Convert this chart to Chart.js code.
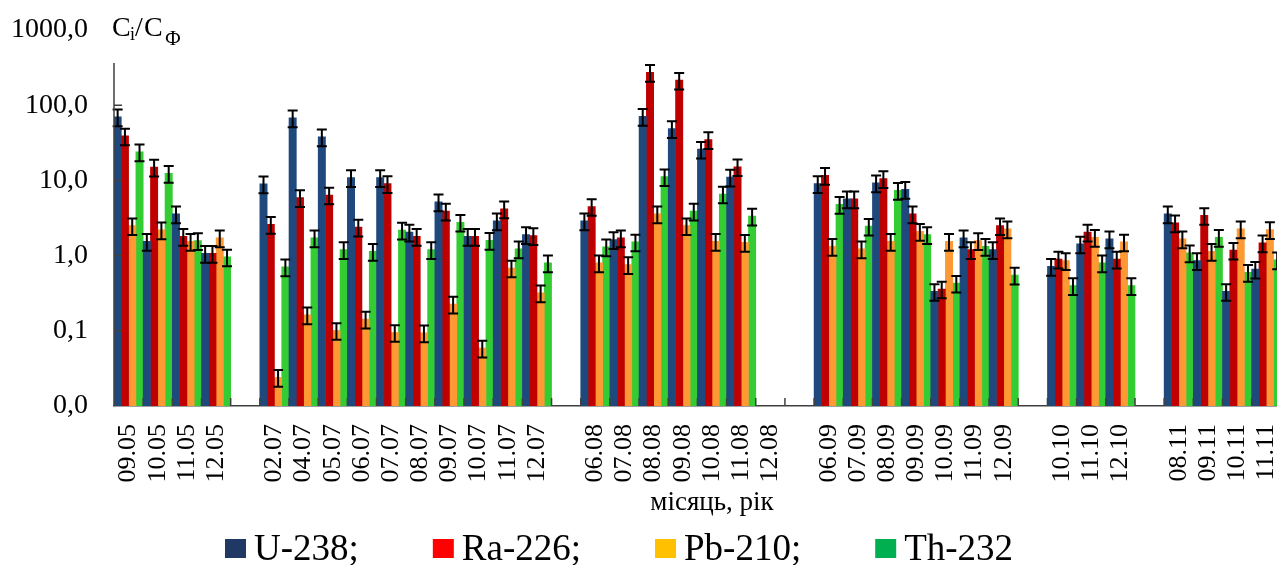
<!DOCTYPE html>
<html>
<head>
<meta charset="utf-8">
<script src="https://cdn.jsdelivr.net/npm/chart.js@4.4.1/dist/chart.umd.min.js"></script>
<style>
  html, body { margin: 0; padding: 0; background: #fff; overflow: hidden; }
  #wrap { position: relative; width: 1310px; height: 565px; }
</style>
</head>
<body>
<div id="wrap"><canvas id="myChart"></canvas></div>
<script>
// місяць.рік, порожні мітки - проміжки між роками
const months = [
  "09.05", "10.05", "11.05", "12.05", "",
  "02.07", "04.07", "05.07", "06.07", "07.07", "08.07", "09.07", "10.07", "11.07", "12.07", "",
  "06.08", "07.08", "08.08", "09.08", "10.08", "11.08", "12.08", "",
  "06.09", "07.09", "08.09", "09.09", "10.09", "11.09", "12.09", "",
  "10.10", "11.10", "12.10", "",
  "08.11", "09.11", "10.11", "11.11", ""
];

// Ci/Cф
const u238 = [
  70, 1.55, 3.6, 1.07, null,
  9.0, 68, 38, 10.9, 10.9, 2.05, 5.2, 1.8, 2.9, 1.9, null,
  2.9, 1.63, 71, 49, 26, 11.1, null, null,
  9.1, 5.7, 9.3, 7.6, 0.334, 1.72, 1.2, null,
  0.72, 1.43, 1.67, null,
  3.6, 0.86, 0.334, 0.66, null
];
const ra226 = [
  39, 15, 1.8, 1.07, null,
  2.6, 5.9, 6.4, 2.4, 9.1, 1.8, 3.9, 1.8, 4.2, 1.85, null,
  4.5, 1.72, 273, 215, 35, 15.2, null, null,
  11.7, 5.7, 10.6, 3.6, 0.36, 1.2, 2.5, null,
  0.9, 2.05, 0.9, null,
  2.73, 3.42, 1.18, 1.48, null
];
const pb210 = [
  2.5, 2.2, 1.55, 1.72, null,
  0.024, 0.163, 0.101, 0.143, 0.095, 0.094, 0.227, 0.059, 0.685, 0.32, null,
  0.8, 0.76, 3.6, 2.5, 1.55, 1.5, null, null,
  1.33, 1.23, 1.55, 2.1, 1.55, 1.58, 2.27, null,
  0.86, 1.75, 1.52, null,
  1.67, 1.14, 2.27, 2.22, null
];
const th232 = [
  24, 12.4, 1.58, 0.96, null,
  0.71, 1.72, 1.2, 1.14, 2.18, 1.2, 2.78, 1.6, 1.23, 0.8, null,
  1.31, 1.52, 11.2, 3.9, 6.6, 3.35, null, null,
  4.8, 2.46, 7.4, 1.9, 0.43, 1.33, 0.55, null,
  0.4, 0.8, 0.4, null,
  1.09, 1.75, 0.6, 0.88, null
];

const seriesNames = ["U-238", "Ra-226", "Pb-210", "Th-232"];
const legendTexts = ["U-238;", "Ra-226;", "Pb-210;", "Th-232"];
const yTickValues = [0.01, 0.1, 1, 10, 100, 1000];
const yTickLabels = ["0,0", "0,1", "1,0", "10,0", "100,0", "1000,0"];
const errorShare = 0.25; // похибка ±25%

const barColors = ["#1f497d", "#c00000", "#ff9933", "#33cc33"];
const legendColors = ["#1f3864", "#ff0000", "#ffc000", "#00b050"];
const serif = "'Liberation Serif', 'Times New Roman', serif";
const axisColor = "#404040";

const errorBars = {
  id: "errorBars",
  afterDatasetsDraw(chart) {
    const { ctx } = chart;
    const yScale = chart.scales.y;
    ctx.save();
    ctx.strokeStyle = "#000";
    ctx.lineWidth = 2;
    chart.data.datasets.forEach((ds, i) => {
      chart.getDatasetMeta(i).data.forEach((bar, j) => {
        const v = ds.data[j];
        if (v == null) return;
        const yHi = yScale.getPixelForValue(v * (1 + errorShare));
        const yLo = yScale.getPixelForValue(v * (1 - errorShare));
        ctx.beginPath();
        ctx.moveTo(bar.x, yHi);
        ctx.lineTo(bar.x, yLo);
        ctx.moveTo(bar.x - 5, yHi);
        ctx.lineTo(bar.x + 5, yHi);
        ctx.moveTo(bar.x - 5, yLo);
        ctx.lineTo(bar.x + 5, yLo);
        ctx.stroke();
      });
    });
    ctx.restore();
  }
};

// внутрішні поділки осей, вісь Y, підпис Ci/CФ і легенда
const decorations = {
  id: "decorations",
  afterDraw(chart) {
    const { ctx, chartArea } = chart;
    const x = chart.scales.x;
    const y = chart.scales.y;
    ctx.save();
    ctx.strokeStyle = axisColor;
    ctx.lineWidth = 1.5;
    ctx.beginPath();
    ctx.moveTo(chartArea.left, chartArea.top + 33);
    ctx.lineTo(chartArea.left, chartArea.bottom);
    for (let i = 0; i <= months.length; i++) {
      const px = x.getPixelForValue(i - 0.5);
      ctx.moveTo(px, chartArea.bottom);
      ctx.lineTo(px, chartArea.bottom - 8);
    }
    yTickValues.slice(1, 5).forEach((v) => {
      const py = y.getPixelForValue(v);
      ctx.moveTo(chartArea.left, py);
      ctx.lineTo(chartArea.left + 8, py);
    });
    ctx.stroke();

    // Ci/CФ
    ctx.fillStyle = "#000";
    ctx.textBaseline = "alphabetic";
    ctx.textAlign = "left";
    const parts = [
      ["C", 28, 112, 36],
      ["i", 18, 130, 40],
      ["/", 28, 135, 36],
      ["C", 28, 144, 36],
      ["Ф", 20, 165, 45]
    ];
    parts.forEach(([t, size, px, base]) => {
      ctx.font = size + "px " + serif;
      ctx.fillText(t, px, base);
    });

    // легенда
    ctx.font = "37px " + serif;
    let lx = 225;
    legendTexts.forEach((t, i) => {
      ctx.fillStyle = legendColors[i];
      ctx.fillRect(lx, 539, 21, 19);
      ctx.fillStyle = "#000";
      ctx.fillText(t, lx + 29, 560);
      lx += 29 + ctx.measureText(t).width + 74;
    });
    ctx.restore();
  }
};

const datasets = [u238, ra226, pb210, th232].map((data, i) => ({
  label: seriesNames[i],
  data,
  backgroundColor: barColors[i],
  borderWidth: 0,
  categoryPercentage: 1,
  barPercentage: 1
}));

const config = {
  type: "bar",
  data: { labels: months, datasets },
  options: {
    responsive: true,
    maintainAspectRatio: false,
    animation: false,
    layout: { padding: { top: 30, left: 0, right: 0, bottom: 0 } },
    plugins: {
      legend: { display: false },
      tooltip: { enabled: false }
    },
    scales: {
      x: {
        afterFit: (s) => {
          s.height = 159;
          s.paddingLeft = 0;
          s.paddingRight = 0;
        },
        grid: { display: false, drawTicks: false },
        border: { color: axisColor, width: 1.5 },
        ticks: {
          autoSkip: false,
          minRotation: 90,
          maxRotation: 90,
          padding: 18,
          color: "#000",
          font: { family: serif, size: 26 }
        },
        title: {
          display: true,
          text: "місяць, рік",
          color: "#000",
          font: { family: serif, size: 27 },
          padding: { top: 0, bottom: 46 }
        }
      },
      y: {
        type: "logarithmic",
        min: 0.01,
        max: 1000,
        afterBuildTicks: (s) => { s.ticks = yTickValues.map((v) => ({ value: v })); },
        afterFit: (s) => {
          s.width = 114;
          s.paddingTop = 0;
          s.paddingBottom = 0;
        },
        grid: { display: false, drawTicks: false },
        border: { display: false },
        ticks: {
          padding: 26,
          color: "#000",
          font: { family: serif, size: 28 },
          callback: (v, i) => yTickLabels[i]
        }
      }
    }
  },
  plugins: [errorBars, decorations]
};

document.fonts.load("28px 'Liberation Serif'").then(() => {
  new Chart(document.getElementById("myChart"), config);
});
</script>
</body>
</html>
